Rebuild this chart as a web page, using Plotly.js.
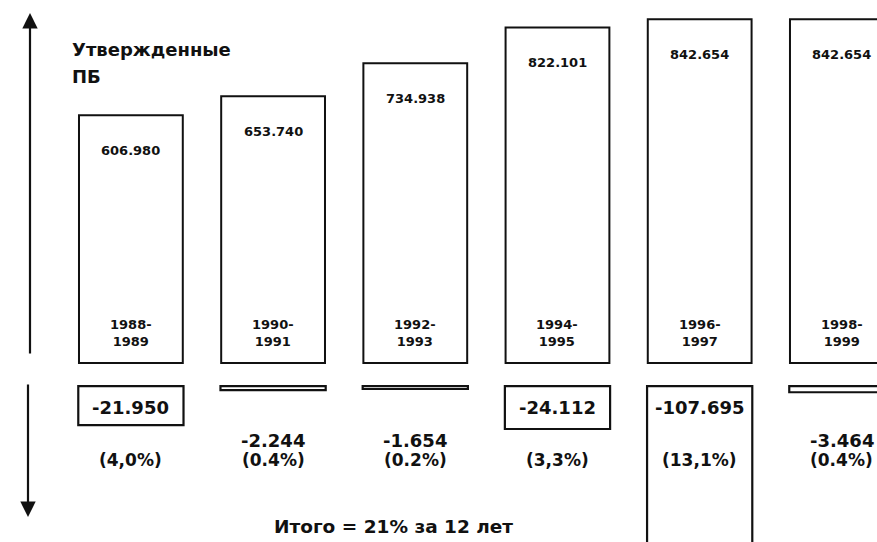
<!DOCTYPE html>
<html>
<head>
<meta charset="utf-8">
<script src="https://cdn.plot.ly/plotly-3.0.1.min.js"></script>
<style>html,body{margin:0;padding:0;background:#fff;}#chart{width:877px;height:542px;}</style>
</head>
<body>
<div id="chart"></div>
<script>
// ---- data ----
const periods = ["1988-1989","1990-1991","1992-1993","1994-1995","1996-1997","1998-1999"];
const approved = [606.980, 653.740, 734.938, 822.101, 842.654, 842.654];
const approvedLabels = ["606.980","653.740","734.938","822.101","842.654","842.654"];
const cuts = [-21.950, -2.244, -1.654, -24.112, -107.695, -3.464];
const cutLabels = ["-21.950","-2.244","-1.654","-24.112","-107.695","-3.464"];
const cutShares = ["(4,0%)","(0.4%)","(0.2%)","(3,3%)","(13,1%)","(0.4%)"];
const legendText = ["Утвержденные", "ПБ"];
const totalText = "Итого = 21% за 12 лет";

const W = 877, H = 542;
const FONT = "DejaVu Sans";
const py = px => 1 - px / H;

const traces = [
  {type: "bar", x: periods, y: approved, width: 0.73,
   marker: {color: "#fff", line: {color: "#111", width: 2}},
   hoverinfo: "skip", xaxis: "x", yaxis: "y"},
  {type: "bar", x: periods, y: cuts, width: 0.74,
   marker: {color: "#fff", line: {color: "#111", width: 2.2}},
   hoverinfo: "skip", xaxis: "x", yaxis: "y2"}
];

const ann = [];
periods.forEach((p, i) => {
  ann.push({x: p, y: approved[i], xref: "x", yref: "y", yshift: -35, yanchor: "middle",
    text: approvedLabels[i], showarrow: false, font: {family: FONT, size: 13, color: "#111", weight: "bold"}});
  ann.push({x: p, y: py(333), xref: "x", yref: "paper", yanchor: "middle",
    text: p.replace("-", "-<br>"), showarrow: false,
    font: {family: FONT, size: 13, color: "#111", weight: "bold"}});
  const big = Math.abs(cuts[i]) > 10;
  ann.push({x: p, y: py(big ? 407 : 440), xref: "x", yref: "paper", yanchor: "middle",
    text: cutLabels[i], showarrow: false, font: {family: FONT, size: 18, color: "#111", weight: "bold"}});
  ann.push({x: p, y: py(460), xref: "x", yref: "paper", yanchor: "middle",
    text: cutShares[i], showarrow: false, font: {family: FONT, size: 17, color: "#111", weight: "bold"}});
});
ann.push({x: 70 / W, y: py(50), xref: "paper", yref: "paper", xanchor: "left", yanchor: "middle",
  text: legendText[0], showarrow: false, font: {family: FONT, size: 18, color: "#111", weight: "bold"}});
ann.push({x: 70 / W, y: py(76), xref: "paper", yref: "paper", xanchor: "left", yanchor: "middle",
  text: legendText[1], showarrow: false, font: {family: FONT, size: 18, color: "#111", weight: "bold"}});
ann.push({x: 393 / W, y: py(526), xref: "paper", yref: "paper", xanchor: "center", yanchor: "middle",
  text: totalText, showarrow: false, font: {family: FONT, size: 18.5, color: "#111", weight: "bold"}});
// arrows
ann.push({x: 30 / W, y: py(13), xref: "paper", yref: "paper", text: "", showarrow: true,
  ax: 0, ay: 342, arrowhead: 2, arrowsize: 1.4, arrowwidth: 2.2, arrowcolor: "#111"});
ann.push({x: 28 / W, y: py(517), xref: "paper", yref: "paper", text: "", showarrow: true,
  ax: 0, ay: -134, arrowhead: 2, arrowsize: 1.4, arrowwidth: 2.2, arrowcolor: "#111"});

const layout = {
  width: W, height: H,
  margin: {l: 0, r: 0, t: 0, b: 0},
  paper_bgcolor: "#fff", plot_bgcolor: "#fff",
  showlegend: false, barmode: "overlay",
  xaxis: {type: "category", range: [-0.9205, 5.247], visible: false, fixedrange: true},
  yaxis: {range: [-438.7, 889.7], visible: false, fixedrange: true},
  yaxis2: {range: [-87.6, 216.9], visible: false, overlaying: "y", fixedrange: true},
  annotations: ann
};

Plotly.newPlot("chart", traces, layout, {staticPlot: true});
</script>
</body>
</html>
